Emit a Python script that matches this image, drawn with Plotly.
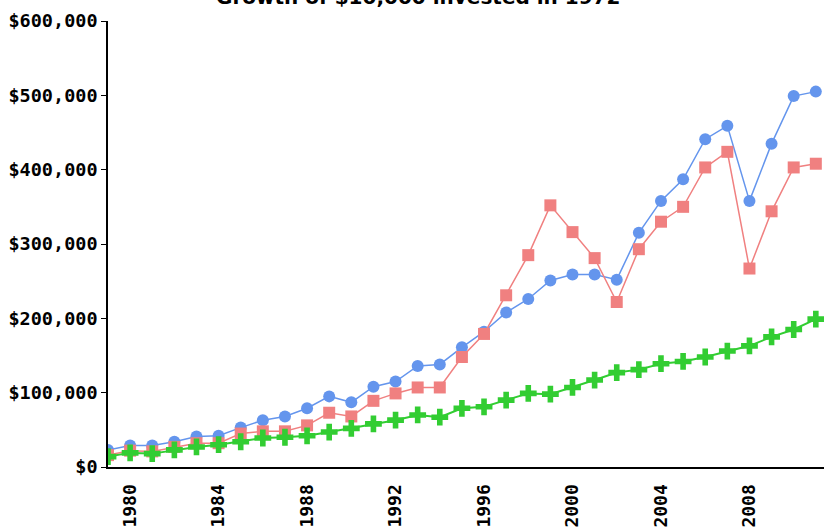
"""
Growth of $10,000 invested in 1972 - three portfolios, line + marker chart.
"""
import plotly.graph_objects as go

years = list(range(1979, 2012))

# values in dollars
blue_vals = [23000, 29000, 29000, 34000, 41000, 42000, 53000, 63000, 68000, 79000,
             95000, 87000, 108000, 115000, 136000, 138000, 161000, 182000, 208000, 226000,
             251000, 259000, 259000, 252000, 315000, 358000, 387000, 441000, 459000, 358000,
             435000, 499000, 505000]
red_vals = [16000, 22000, 21000, 27000, 32000, 32000, 45000, 48000, 48000, 56000,
            73000, 68000, 89000, 99000, 107000, 107000, 148000, 179000, 231000, 285000,
            352000, 316000, 281000, 222000, 293000, 330000, 350000, 403000, 424000, 267000,
            344000, 403000, 408000]
green_vals = [14000, 19000, 18000, 23000, 27000, 30000, 34000, 39000, 40000, 42000,
              47000, 52000, 58000, 63000, 70000, 67000, 79000, 81000, 90000, 99000,
              98000, 107000, 117000, 127000, 131000, 139000, 142000, 148000, 156000, 163000,
              175000, 185000, 199000]

x_ticks = [1980, 1984, 1988, 1992, 1996, 2000, 2004, 2008]
y_ticks = [0, 100000, 200000, 300000, 400000, 500000, 600000]
y_labels = ['$0', '$100,000', '$200,000', '$300,000', '$400,000', '$500,000', '$600,000']

fig = go.Figure()

fig.add_trace(go.Scatter(
    x=years, y=blue_vals, mode='lines+markers',
    line=dict(color='#6495ED', width=1.5),
    marker=dict(symbol='circle', size=12, color='#6495ED'),
))
fig.add_trace(go.Scatter(
    x=years, y=red_vals, mode='lines+markers',
    line=dict(color='#F08080', width=1.5),
    marker=dict(symbol='square', size=12, color='#F08080'),
))
fig.add_trace(go.Scatter(
    x=years, y=green_vals, mode='lines+markers',
    line=dict(color='#32CD32', width=2),
    marker=dict(symbol='cross', size=14, color='#32CD32'),
))

# title sits mostly above the page edge, like the reference
fig.add_annotation(
    text='<b>Growth of $10,000 invested in 1972</b>',
    font=dict(family='DejaVu Sans', size=20, color='black'),
    xref='paper', yref='paper', x=0.433, y=1.054,
    xanchor='center', yanchor='middle', showarrow=False,
)

fig.update_layout(
    width=824, height=527,
    showlegend=False,
    plot_bgcolor='white', paper_bgcolor='white',
    margin=dict(l=108, r=0, t=21, b=60),
)
fig.update_xaxes(
    range=[1979, 2011.37], tickvals=x_ticks, tickangle=-90, automargin=False,
    tickfont=dict(family='DejaVu Sans Mono', size=18, color='black', weight='bold'),
    showgrid=False, zeroline=False,
    showline=True, linecolor='black', linewidth=2,
    ticks='', ticklabelstandoff=8,
)
fig.update_yaxes(
    range=[0, 600000], tickvals=y_ticks, ticktext=y_labels, automargin=False,
    tickfont=dict(family='DejaVu Sans Mono', size=18.5, color='black', weight='bold'),
    showgrid=False, zeroline=False,
    showline=True, linecolor='black', linewidth=1.5,
    ticks='outside', ticklen=5, tickcolor='black',
)

# drop the browser's default body margin so the figure fills the window
fig.write_html('out.html', config={'displayModeBar': False},
               post_script="document.body.style.margin='0';")
